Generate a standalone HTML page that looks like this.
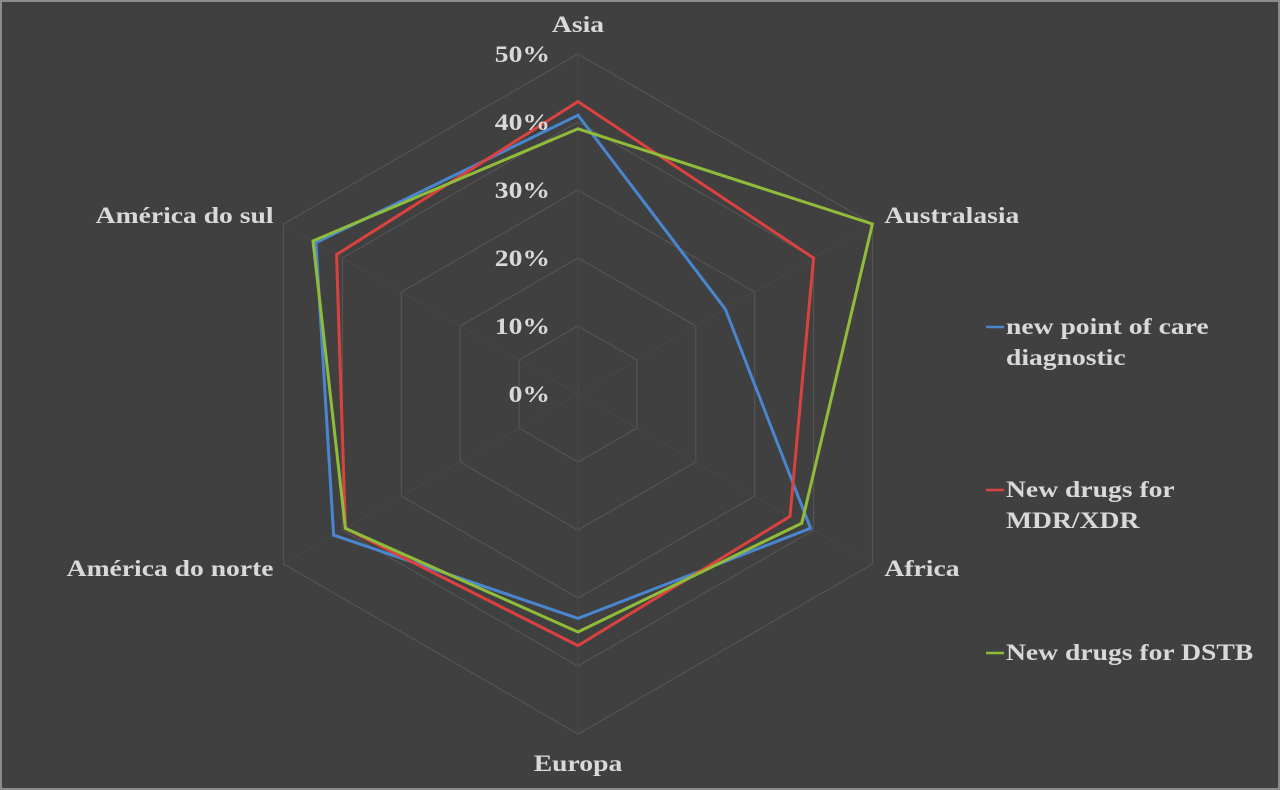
<!DOCTYPE html>
<html><head><meta charset="utf-8"><style>
html,body{margin:0;padding:0;background:#404040;}
svg{display:block;}
text{font-family:"Liberation Serif",serif;font-weight:bold;fill:#d9d9d9;}
</style></head><body>
<svg id="chart" width="1280" height="790" viewBox="0 0 1280 790" xmlns="http://www.w3.org/2000/svg">
<rect x="1" y="1" width="1278" height="788" fill="#404040" stroke="#8c8c8c" stroke-width="2"/>
<g id="grid"></g><g id="series"></g><g id="labels"></g><g id="legend"></g>
</svg>
<script>
const categories = ["Asia","Australasia","Africa","Europa","América do norte","América do sul"];
const seriesNames = ["new point of care diagnostic","New drugs for MDR/XDR","New drugs for DSTB"];
const pocDiagnostic = [41,25,39.5,33,41.5,44.5];
const mdrXdr = [43,40,36,37,39.5,41];
const dstb = [39,50,38,35,39.5,45];
const tickLabels = ["0%","10%","20%","30%","40%","50%"];
const tickValues = [0,10,20,30,40,50];

const NS="http://www.w3.org/2000/svg";
const cx=578, cy=394, R=340, maxV=50;
const colors=["#4a86cf","#d9423f","#8fbd3a"];
const seriesData=[pocDiagnostic,mdrXdr,dstb];
const FS=23, WIDEN=1.2;
function ang(i){return -Math.PI/2 + i*2*Math.PI/categories.length;}
function pt(i,v){const r=v/maxV*R;return [cx+r*Math.cos(ang(i)), cy+r*Math.sin(ang(i))];}
function mk(tag,attrs,parent){const e=document.createElementNS(NS,tag);for(const k in attrs)e.setAttribute(k,attrs[k]);parent.appendChild(e);return e;}
function widen(t){const w=t.getComputedTextLength();t.setAttribute('textLength',(w*WIDEN).toFixed(1));t.setAttribute('lengthAdjust','spacingAndGlyphs');}
const grid=document.getElementById('grid');
tickValues.forEach((t,k)=>{
  if(t===0)return;
  const pts=categories.map((c,i)=>pt(i,t).join(',')).join(' ');
  const p=mk('polygon',{points:pts,fill:'none',stroke:'#545454','stroke-width':1.2},grid);
  
  
});
categories.forEach((c,i)=>{
  const [x,y]=pt(i,maxV);
  const l=mk('line',{x1:cx,y1:cy,x2:x,y2:y,stroke:'#474747','stroke-width':1},grid);
  
  
});
const sg=document.getElementById('series');
seriesData.forEach((d,s)=>{
  const pts=d.map((v,i)=>pt(i,v).join(',')).join(' ');
  const p=mk('polygon',{points:pts,fill:'none',stroke:colors[s],'stroke-width':3,'stroke-linejoin':'miter'},sg);
  
  
});
const lg=document.getElementById('labels');
tickValues.forEach((t,k)=>{
  const y=cy - t/maxV*R;
  const e=mk('text',{x:cx-28,y:y+8,'text-anchor':'end','font-size':FS},lg);
  e.textContent=tickLabels[k];
  
  
  widen(e);
});
const anchors=["middle","start","start","middle","end","end"];
const offs=[[0,-22],[12,0],[12,12],[0,37],[-10,12],[-10,0]];
categories.forEach((c,i)=>{
  const [x,y]=pt(i,maxV);
  const e=mk('text',{x:x+offs[i][0],y:y+offs[i][1]+(i===1||i===5?-1:0),'text-anchor':anchors[i],'font-size':FS},lg);
  e.textContent=c;
  
  
  widen(e);
});
const leg=document.getElementById('legend');
const legLines=[["new point of care","diagnostic"],["New drugs for","MDR/XDR"],["New drugs for DSTB"]];
const legY=[334,497,660];
legLines.forEach((lines,s)=>{
  const g=mk('g',{},leg);
  
  
  mk('line',{x1:986,y1:legY[s]-7,x2:1004,y2:legY[s]-7,stroke:colors[s],'stroke-width':2.5},g);
  lines.forEach((ln,j)=>{
    const t=mk('text',{x:1006,y:legY[s]+j*31,'font-size':FS},g);
    t.textContent=ln;
    widen(t);
  });
});
</script>
</body></html>
